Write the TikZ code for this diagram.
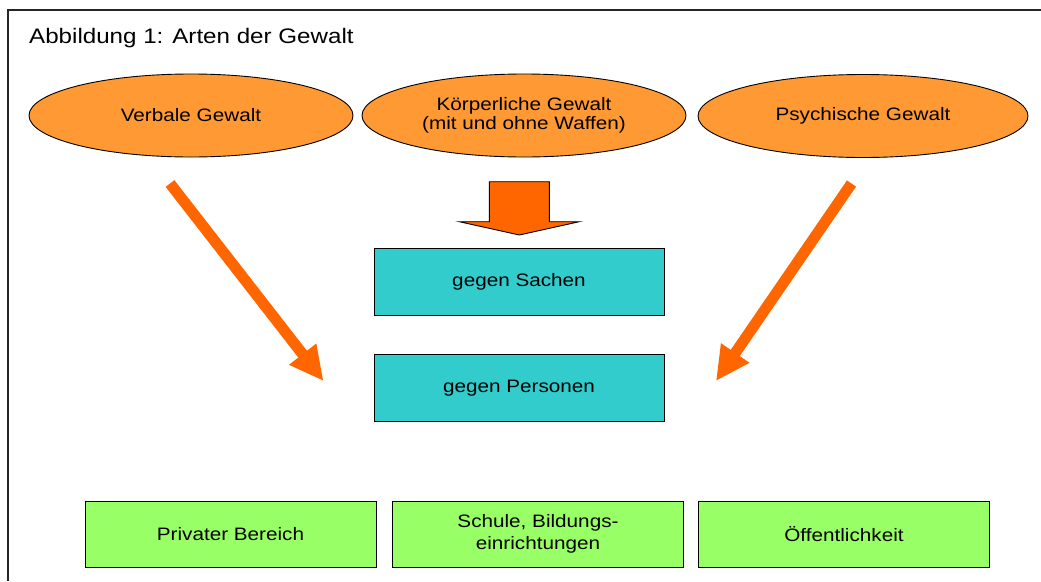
\documentclass[tikz,border=0pt]{standalone}
\usepackage{fontspec}
\setmainfont[FakeStretch=1.15]{Liberation Sans}
\usetikzlibrary{shapes.geometric,arrows.meta}
\definecolor{ellfill}{HTML}{FF9933}
\definecolor{arrfill}{HTML}{FF6600}
\definecolor{tealfill}{HTML}{33CCCC}
\definecolor{greenfill}{HTML}{99FF66}
\tikzset{
  ellbox/.style={ellipse, draw=black, line width=0.9pt, fill=ellfill, minimum width=324pt, minimum height=83pt, inner sep=0pt, align=center, font=\fontsize{18}{19.5}\selectfont},
  tealbox/.style={rectangle, draw=black, line width=1pt, fill=tealfill, minimum width=290pt, minimum height=67pt, inner sep=0pt, align=center, font=\fontsize{18}{19.5}\selectfont},
  greenbox/.style={rectangle, draw=black, line width=1pt, fill=greenfill, minimum width=291pt, minimum height=66pt, inner sep=0pt, align=center, font=\fontsize{18}{22}\selectfont},
  diagarrow/.style={draw=arrfill, line width=11pt, -{Triangle[length=34pt,width=32pt]}},
  blockarrow/.style={draw=black, line width=0.9pt, fill=arrfill, line join=miter},
  frameline/.style={draw=black!85, line width=1.3pt}
}
\begin{document}
\begin{tikzpicture}[x=1pt,y=-1pt]
\useasboundingbox (0,0) rectangle (1041,581);
\fill[white] (0,0) rectangle (1041,581);
% frame
\draw[frameline] (8,581) -- (8,10) -- (1045,10);
% title
\node[anchor=base west, inner sep=0pt, font=\fontsize{21}{24}\selectfont] (title) at (29,43) {Abbildung 1: Arten der Gewalt};
% ellipses
\node[ellbox] (verbal) at (191,115.5) {Verbale Gewalt};
\node[ellbox] (koerper) at (524,115.5) {Körperliche Gewalt\\(mit und ohne Waffen)};
\node[ellbox, minimum width=330pt] (psych) at (863,116) {Psychische Gewalt};
% block arrow
\draw[blockarrow] (489.3,181.7) -- (549.3,181.7) -- (549.3,221.7) -- (579.3,221.7) -- (519.3,235) -- (459.3,221.7) -- (489.3,221.7) -- cycle;
% teal boxes
\node[tealbox] (sachen) at (519,281.7) {gegen Sachen};
\node[tealbox] (personen) at (519,388.3) {gegen Personen};
% diagonal arrows
\coordinate (lstart) at (170,183.5);
\coordinate (lend) at (323.5,381);
\coordinate (rstart) at (851.5,183.5);
\coordinate (rend) at (716,381);
\draw[diagarrow] (lstart) -- (lend);
\draw[diagarrow] (rstart) -- (rend);
% green boxes
\node[greenbox] (privat) at (230.5,534) {Privater Bereich};
\node[greenbox] (schule) at (538,534) {Schule, Bildungs-\\einrichtungen};
\node[greenbox] (oeff) at (844,534) {Öffentlichkeit};
\end{tikzpicture}
\end{document}
